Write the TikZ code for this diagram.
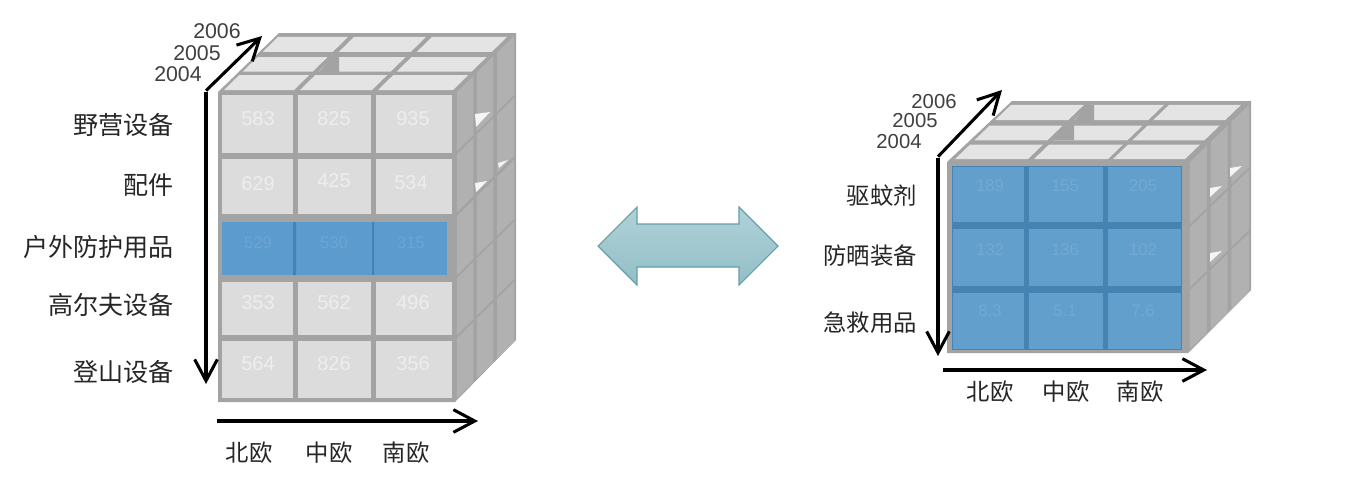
\documentclass[tikz,border=0pt]{standalone}
\usepackage{fontspec}
\setmainfont{Liberation Sans}
\newfontfamily\cjk{Noto Sans CJK SC}
\usetikzlibrary{arrows.meta}
\definecolor{cubegrey}{HTML}{A3A3A3}
\definecolor{sidecell}{HTML}{B1B1B1}
\definecolor{topcell}{HTML}{E4E4E4}
\definecolor{frontcell}{HTML}{DCDCDC}
\definecolor{bluecell}{HTML}{5B9BCE}
\definecolor{bluecellb}{HTML}{629FCD}
\definecolor{blueline}{HTML}{4583B3}
\definecolor{arrowfilla}{HTML}{B0D2D8}
\definecolor{arrowfillb}{HTML}{93BEC6}
\definecolor{arrowedge}{HTML}{64A0A9}
\tikzset{
  x=0.75pt, y=-0.75pt,
  axisline/.style={line width=2.3pt, black, -{Straight Barb[length=16pt,width=17pt,line width=2.3pt]}},
  catlabel/.style={font=\cjk\fontsize{17.5}{20}\selectfont, text=black!85, inner sep=0pt},
  catright/.style={catlabel, anchor=east},
  catbig/.style={font=\cjk\fontsize{18.8}{20}\selectfont, text=black!85, inner sep=0pt, anchor=east},
  yearlabel/.style={font=\fontsize{15.2}{17}\selectfont, text=black!75, inner sep=0pt},
  yearbig/.style={font=\fontsize{16}{17}\selectfont, text=black!75, inner sep=0pt},
  vallabel/.style={font=\fontsize{15}{15}\selectfont, text=white, text opacity=0.5, inner sep=0pt},
  bluelabel/.style={font=\fontsize{12.5}{14}\selectfont, text=white, text opacity=0.1, inner sep=0pt},
}
\newcommand{\sidequad}[7]{%
  \fill[sidecell] ({#5+#6*#3},{#1+#7*#3}) -- ({#5+#6*#4},{#1+#7*#4}) -- ({#5+#6*#4},{#2+#7*#4}) -- ({#5+#6*#3},{#2+#7*#3}) -- cycle;}
\newcommand{\topquad}[7]{%
  \fill[topcell] ({#1+#6*#3},{#5+#7*#3}) -- ({#2+#6*#3},{#5+#7*#3}) -- ({#2+#6*#4},{#5+#7*#4}) -- ({#1+#6*#4},{#5+#7*#4}) -- cycle;}
\begin{document}
\begin{tikzpicture}
\useasboundingbox (0,0) rectangle (1364,476);
\fill[white] (0,0) rectangle (1364,476);

% ---------- left cube ----------
\fill[cubegrey] (218,92) -- (279,33) -- (516,33) -- (516,340) -- (455,402) -- (218,402) -- cycle;
\foreach \ya/\yb in {94/153,156/214,218/277,280/337,340/400}
  \foreach \ta/\tb in {0.03/0.30,0.36/0.63,0.69/0.97}
    \sidequad{\ya}{\yb}{\ta}{\tb}{455}{61}{-60};
\foreach \xa/\xb in {222/292,298/370,376/451}
  \foreach \ta/\tb in {0.03/0.28,0.34/0.58,0.67/0.92}
    \topquad{\xa}{\xb}{\ta}{\tb}{92}{61}{-60};
\fill[cubegrey] (319,72) -- (339,72) -- (339,56) -- (333,56) -- cycle;
\fill[white!92!gray] (475,114) -- (490,112) -- (476,127) -- cycle;
\fill[white!92!gray] (475,183) -- (487,181) -- (476,192) -- cycle;
\fill[white!92!gray] (498,163) -- (508,160) -- (499,168) -- cycle;
\foreach \xa/\xb in {222/293,298/371,376/452}
  \foreach \ya/\yb in {95/153,159/214,282/335,341/398}
    \fill[frontcell] (\xa,\ya) rectangle (\xb,\yb);
\foreach \xa/\xb in {222/293,296/372,374/447}
  \fill[bluecell] (\xa,222) rectangle (\xb,275);
\fill[blueline] (293,222) rectangle (296,275) (372,222) rectangle (374,275);

\node[vallabel] (c11) at (258,119) {583};
\node[vallabel] (c12) at (334,119) {825};
\node[vallabel] (c13) at (413,119) {935};
\node[vallabel] (c21) at (258,184) {629};
\node[vallabel] (c22) at (334,181) {425};
\node[vallabel] (c23) at (411,183) {534};
\node[bluelabel] (c31) at (258,243) {529};
\node[bluelabel] (c32) at (334,243) {530};
\node[bluelabel] (c33) at (411,243) {315};
\node[vallabel] (c41) at (258,303) {353};
\node[vallabel] (c42) at (334,303) {562};
\node[vallabel] (c43) at (413,303) {496};
\node[vallabel] (c51) at (258,364) {564};
\node[vallabel] (c52) at (334,364) {826};
\node[vallabel] (c53) at (413,364) {356};

% left axes
\coordinate (lvEnd) at (206,384);
\coordinate (lvCorner) at (206,92);
\coordinate (lvTip) at (262,36);
\coordinate (lhStart) at (217,421);
\coordinate (lhEnd) at (478,421);
\draw[axisline] (lvCorner) -- (lvEnd);
\draw[axisline] ([yshift=1pt]lvCorner) -- (lvTip);
\draw[axisline] (lhStart) -- (lhEnd);

\node[yearbig] (ly6) at (217,31) {2006};
\node[yearbig] (ly5) at (197,53) {2005};
\node[yearbig] (ly4) at (178,74) {2004};
\node[catbig] (lc1) at (174,125) {野营设备};
\node[catbig] (lc2) at (174,185) {配件};
\node[catbig] (lc3) at (174,247) {户外防护用品};
\node[catbig] (lc4) at (174,305) {高尔夫设备};
\node[catbig] (lc5) at (174,372) {登山设备};
\node[catlabel] (lb1) at (249,453) {北欧};
\node[catlabel] (lb2) at (329,453) {中欧};
\node[catlabel] (lb3) at (406,453) {南欧};

% ---------- double arrow ----------
\path[draw=arrowedge, line width=0.8pt, top color=arrowfilla, bottom color=arrowfillb]
  (598,246) -- (637,207) -- (637,224) -- (739,224) -- (739,207) -- (778,246)
  -- (739,285) -- (739,267) -- (637,267) -- (637,285) -- cycle;

% ---------- right cube ----------
\fill[cubegrey] (947,162) -- (1012,101) -- (1251,101) -- (1251,290) -- (1188,353) -- (947,353) -- cycle;
\foreach \ya/\yb in {164/226,229/289,292/351}
  \foreach \ta/\tb in {0.03/0.30,0.36/0.63,0.69/0.97}
    \sidequad{\ya}{\yb}{\ta}{\tb}{1188}{63}{-61};
\foreach \xa/\xb in {953/1026,1032/1106,1111/1183}
  \foreach \ta/\tb in {0.03/0.27,0.34/0.58,0.67/0.92}
    \topquad{\xa}{\xb}{\ta}{\tb}{161}{63}{-61};
\fill[cubegrey] (1053,140) -- (1074,140) -- (1074,125) -- (1068,125) -- cycle;
\fill[cubegrey] (1074,121) -- (1094,121) -- (1094,105) -- (1088,105) -- cycle;
\fill[white!92!gray] (1210,188) -- (1222,186) -- (1210,197) -- cycle;
\fill[white!92!gray] (1210,253) -- (1222,251) -- (1210,262) -- cycle;
\fill[white!92!gray] (1230,168) -- (1242,166) -- (1230,177) -- cycle;
\fill[blueline] (952,166) rectangle (1182,350);
\foreach \xa/\xb in {953/1024,1029/1103,1108/1181}
  \foreach \ya/\yb in {167/222,229/286,293/349}
    \fill[bluecellb] (\xa,\ya) rectangle (\xb,\yb);

\node[bluelabel] (d11) at (990,186) {189};
\node[bluelabel] (d12) at (1065,186) {155};
\node[bluelabel] (d13) at (1143,186) {205};
\node[bluelabel] (d21) at (990,250) {132};
\node[bluelabel] (d22) at (1065,250) {136};
\node[bluelabel] (d23) at (1143,250) {102};
\node[bluelabel] (d31) at (990,311) {8.3};
\node[bluelabel] (d32) at (1065,311) {5.1};
\node[bluelabel] (d33) at (1143,311) {7.6};

% right axes
\coordinate (rvEnd) at (938,356);
\coordinate (rvCorner) at (938,158);
\coordinate (rvTip) at (1002,90);
\coordinate (rhStart) at (943,370);
\coordinate (rhEnd) at (1207,370);
\draw[axisline] (rvCorner) -- (rvEnd);
\draw[axisline] ([yshift=1pt]rvCorner) -- (rvTip);
\draw[axisline] (rhStart) -- (rhEnd);

\node[yearlabel] (ry6) at (934,102) {2006};
\node[yearlabel] (ry5) at (915,121) {2005};
\node[yearlabel] (ry4) at (899,142) {2004};
\node[catright] (rc1) at (917,196) {驱蚊剂};
\node[catright] (rc2) at (917,256) {防晒装备};
\node[catright] (rc3) at (917,323) {急救用品};
\node[catlabel] (rb1) at (990,392) {北欧};
\node[catlabel] (rb2) at (1066,392) {中欧};
\node[catlabel] (rb3) at (1140,392) {南欧};
\end{tikzpicture}
\end{document}
